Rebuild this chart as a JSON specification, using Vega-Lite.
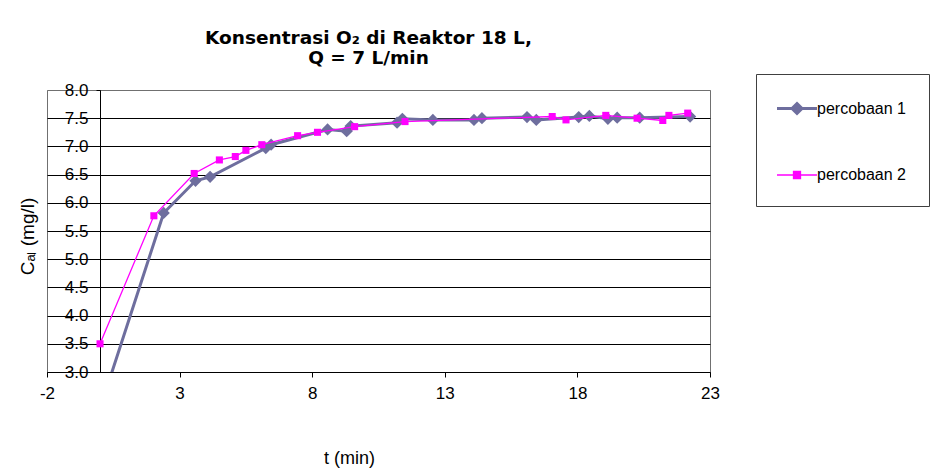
{
  "$schema": "https://vega.github.io/schema/vega-lite/v6.json",
  "width": 663,
  "height": 282,
  "autosize": {"type": "none"},
  "padding": {"left": 47, "top": 90, "right": 226, "bottom": 97},
  "background": "white",
  "config": {
    "font": "Liberation Sans",
    "view": {"stroke": "#707070", "strokeWidth": 1}
  },
  "title": {
    "text": ["Konsentrasi O₂ di Reaktor 18 L,", "Q = 7 L/min"],
    "fontSize": 18.5,
    "fontWeight": "bold",
    "font": "DejaVu Sans",
    "color": "black",
    "lineHeight": 20,
    "anchor": "middle",
    "frame": "group",
    "baseline": "bottom",
    "offset": 21,
    "dx": -10,
    "dy": 34
  },
  "data": {
    "values": [
      {"series": "percobaan 1", "t": 0, "c": 2.35},
      {"series": "percobaan 1", "t": 2.4, "c": 5.82},
      {"series": "percobaan 1", "t": 3.6, "c": 6.39},
      {"series": "percobaan 1", "t": 4.15, "c": 6.46},
      {"series": "percobaan 1", "t": 6.25, "c": 6.97},
      {"series": "percobaan 1", "t": 6.45, "c": 7.03},
      {"series": "percobaan 1", "t": 8.58, "c": 7.3},
      {"series": "percobaan 1", "t": 9.3, "c": 7.27},
      {"series": "percobaan 1", "t": 9.45, "c": 7.36},
      {"series": "percobaan 1", "t": 11.2, "c": 7.42},
      {"series": "percobaan 1", "t": 11.4, "c": 7.49},
      {"series": "percobaan 1", "t": 12.55, "c": 7.47},
      {"series": "percobaan 1", "t": 14.1, "c": 7.47},
      {"series": "percobaan 1", "t": 14.4, "c": 7.5},
      {"series": "percobaan 1", "t": 16.1, "c": 7.52},
      {"series": "percobaan 1", "t": 16.45, "c": 7.47},
      {"series": "percobaan 1", "t": 18.05, "c": 7.52},
      {"series": "percobaan 1", "t": 18.45, "c": 7.54},
      {"series": "percobaan 1", "t": 19.15, "c": 7.49},
      {"series": "percobaan 1", "t": 19.5, "c": 7.51},
      {"series": "percobaan 1", "t": 20.35, "c": 7.51},
      {"series": "percobaan 1", "t": 22.25, "c": 7.53},
      {"series": "percobaan 2", "t": 0, "c": 3.5},
      {"series": "percobaan 2", "t": 2.03, "c": 5.77},
      {"series": "percobaan 2", "t": 3.55, "c": 6.52},
      {"series": "percobaan 2", "t": 4.5, "c": 6.76},
      {"series": "percobaan 2", "t": 5.1, "c": 6.82},
      {"series": "percobaan 2", "t": 5.5, "c": 6.93},
      {"series": "percobaan 2", "t": 6.1, "c": 7.03},
      {"series": "percobaan 2", "t": 7.45, "c": 7.19},
      {"series": "percobaan 2", "t": 8.2, "c": 7.25},
      {"series": "percobaan 2", "t": 9.6, "c": 7.35},
      {"series": "percobaan 2", "t": 11.5, "c": 7.44},
      {"series": "percobaan 2", "t": 17.05, "c": 7.53},
      {"series": "percobaan 2", "t": 17.57, "c": 7.47},
      {"series": "percobaan 2", "t": 19.07, "c": 7.55},
      {"series": "percobaan 2", "t": 20.25, "c": 7.5},
      {"series": "percobaan 2", "t": 21.22, "c": 7.46},
      {"series": "percobaan 2", "t": 21.45, "c": 7.55},
      {"series": "percobaan 2", "t": 22.16, "c": 7.59}
    ]
  },
  "encoding": {
    "x": {
      "field": "t",
      "type": "quantitative",
      "scale": {"domain": [-2, 23], "nice": false, "zero": false},
      "axis": {
        "values": [-2, 3, 8, 13, 18, 23],
        "labelExpr": "datum.value < 0 ? '-' + abs(datum.value) : '' + datum.value",
        "grid": false,
        "domainColor": "black",
        "tickColor": "black",
        "tickSize": 5,
        "labelFontSize": 17,
        "labelPadding": 8,
        "labelColor": "black",
        "labelFlush": false,
        "labelOverlap": false,
        "title": "t (min)",
        "titleFontSize": 18,
        "titleFontWeight": "normal",
        "titleColor": "black",
        "titleX": 302,
        "titleY": 91,
        "titleBaseline": "alphabetic",
        "titleAlign": "center"
      }
    },
    "y": {
      "field": "c",
      "type": "quantitative",
      "scale": {"domain": [3, 8], "nice": false, "zero": false},
      "axis": {
        "values": [3, 3.5, 4, 4.5, 5, 5.5, 6, 6.5, 7, 7.5, 8],
        "format": ".1f",
        "grid": true,
        "gridColor": {"condition": {"test": "datum.value == 8", "value": "#707070"}, "value": "black"},
        "gridWidth": 1,
        "gridOpacity": 1,
        "offset": -53,
        "domainColor": "black",
        "tickColor": "black",
        "tickSize": 4,
        "labelPadding": 8,
        "labelFontSize": 17,
        "labelColor": "black",
        "labelFlush": false,
        "labelOverlap": false,
        "title": "Cₐₗ (mg/l)",
        "titleFontSize": 19,
        "titleFontWeight": "normal",
        "titleColor": "black",
        "titleX": -67,
        "titleY": 146,
        "titleBaseline": "alphabetic",
        "titleAlign": "center"
      }
    }
  },
  "layer": [
    {
      "transform": [{"filter": "datum.series == 'percobaan 1'"}],
      "mark": {"type": "line", "color": "#6E6E9E", "strokeWidth": 3, "clip": true},
      "encoding": {}
    },
    {
      "transform": [{"filter": "datum.series == 'percobaan 1'"}],
      "mark": {"type": "point", "shape": "diamond", "filled": true, "opacity": 1, "size": 150, "clip": true, "color": "#6E6E9E"},
      "encoding": {}
    },
    {
      "transform": [{"filter": "datum.series == 'percobaan 2'"}],
      "mark": {"type": "line", "color": "#FF00FF", "strokeWidth": 1.3, "clip": true},
      "encoding": {}
    },
    {
      "transform": [{"filter": "datum.series == 'percobaan 2'"}],
      "mark": {"type": "point", "shape": "square", "filled": true, "opacity": 1, "size": 50, "clip": true, "color": "#FF00FF"},
      "encoding": {}
    },
    {
      "mark": {"type": "point", "size": 0, "filled": true, "opacity": 1, "fillOpacity": 1, "clip": true},
      "encoding": {
        "fill": {
          "field": "series",
          "type": "nominal",
          "scale": {"domain": ["percobaan 1", "percobaan 2"], "range": ["#6E6E9E", "#FF00FF"]},
          "legend": {
            "title": null,
            "orient": "none",
            "legendX": 709,
            "legendY": -16,
            "padding": 23,
            "rowPadding": 44,
            "strokeColor": "#404040",
            "fillColor": "white",
            "symbolSize": 400,
            "symbolOpacity": 1,
            "labelFontSize": 16,
            "labelColor": "black",
            "labelOffset": 15,
            "labelFont": "Liberation Sans"
          }
        },
        "stroke": {
          "field": "series",
          "type": "nominal",
          "scale": {"domain": ["percobaan 1", "percobaan 2"], "range": ["#6E6E9E", "#FF00FF"]}
        },
        "shape": {
          "field": "series",
          "type": "nominal",
          "scale": {
            "domain": ["percobaan 1", "percobaan 2"],
            "range": [
              "M-1.35,0L2.65,0M0.65,-0.5L1.15,0L0.65,0.5L0.15,0Z",
              "M-1.35,0L2.65,0M0.3,-0.35L1.0,-0.35L1.0,0.35L0.3,0.35Z"
            ]
          }
        },
        "strokeWidth": {
          "field": "series",
          "type": "nominal",
          "scale": {"domain": ["percobaan 1", "percobaan 2"], "range": [3, 1.3]}
        }
      }
    }
  ]
}
